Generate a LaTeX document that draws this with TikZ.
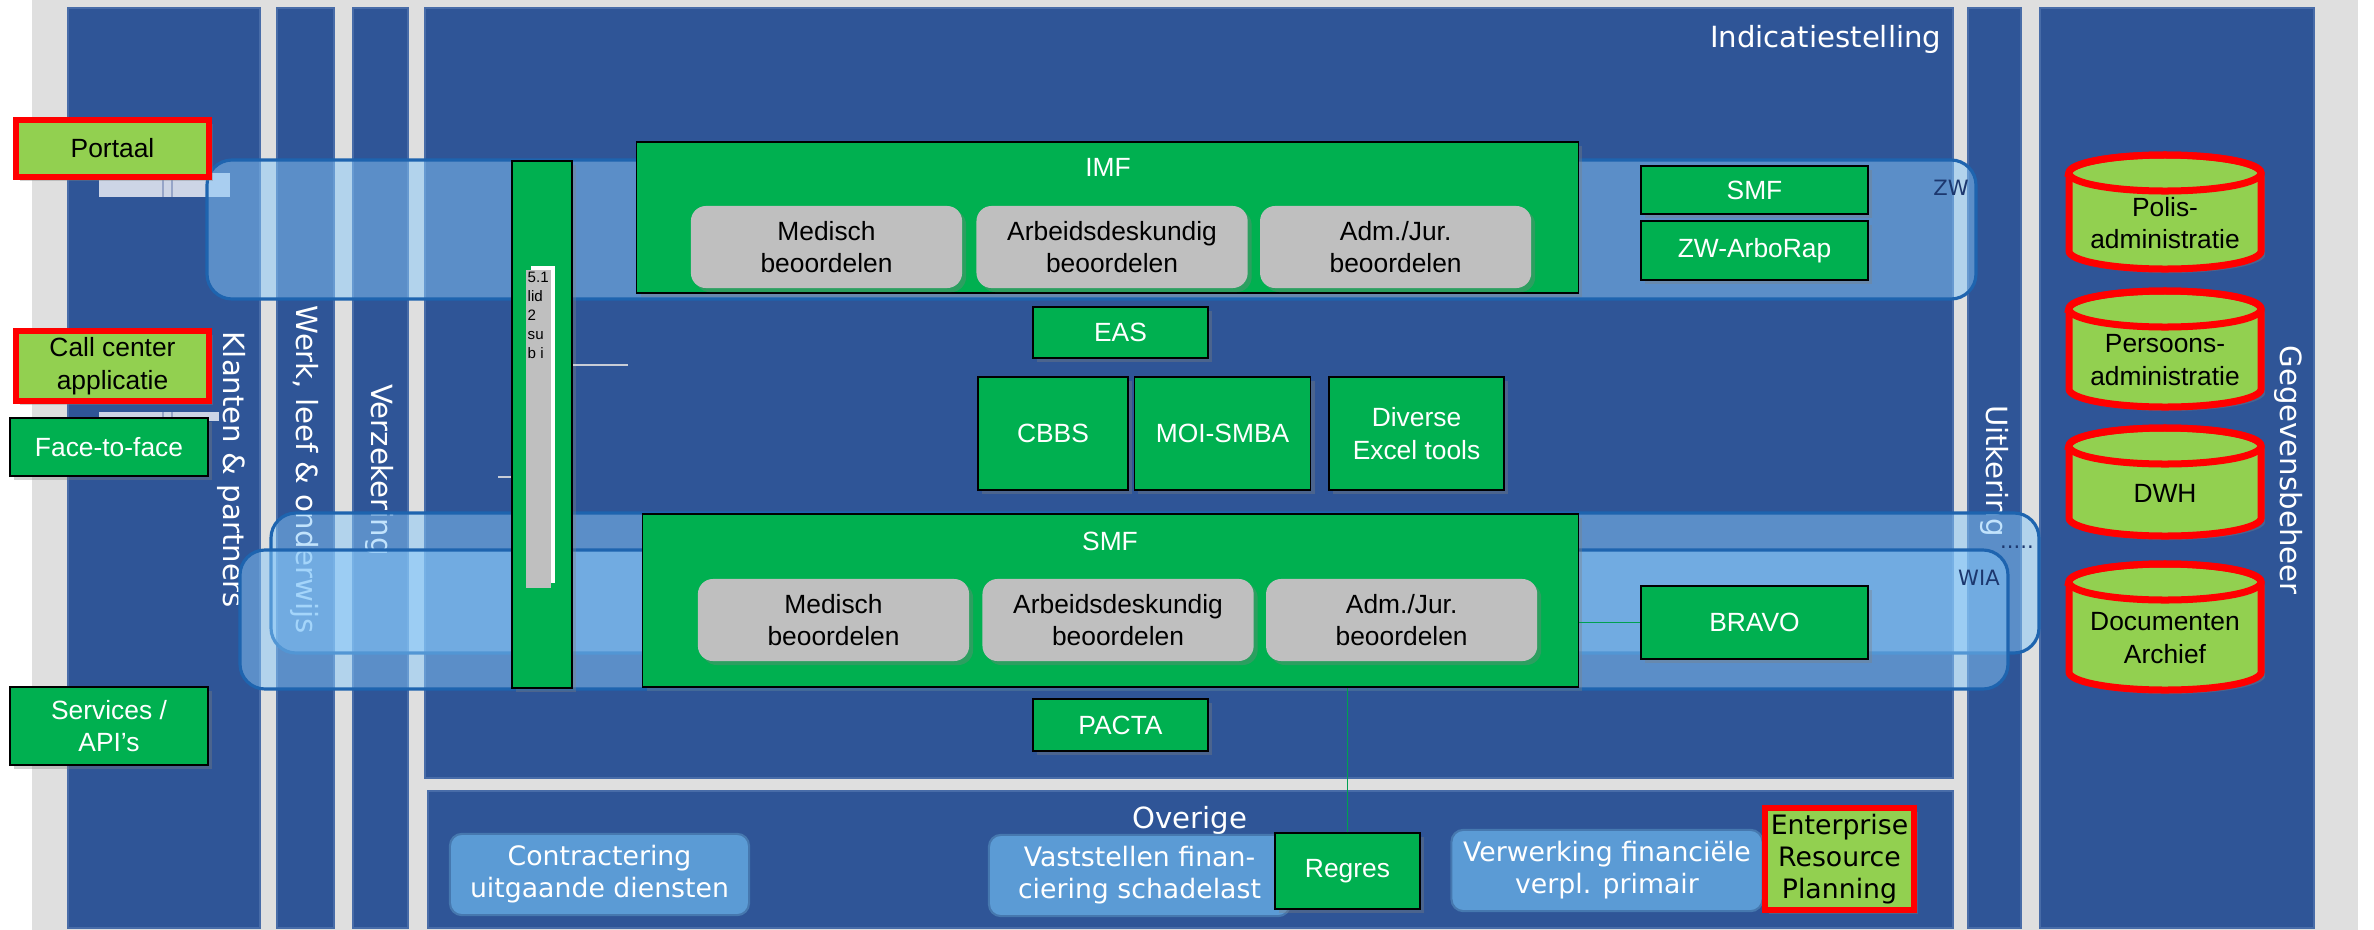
\documentclass[tikz,border=0pt]{standalone}
\usepackage{fontspec}
\setmainfont{Liberation Sans}
\newfontfamily\verdfont{DejaVu Sans}
\usepackage{tikz}
\usetikzlibrary{positioning, shadows}

\definecolor{bggray}{RGB}{223,223,223}
\definecolor{laneblue}{RGB}{47,85,151}
\definecolor{lanerim}{RGB}{72,108,168}
\definecolor{appgreen}{RGB}{0,176,80}
\definecolor{funcgray}{RGB}{191,191,191}
\definecolor{limegreen}{RGB}{146,208,80}
\definecolor{alertred}{RGB}{255,0,0}
\definecolor{procblue}{RGB}{91,155,213}
\definecolor{procrim}{RGB}{70,120,175}
\definecolor{bandfill}{RGB}{135,200,250}
\definecolor{bandrim}{RGB}{30,100,175}
\definecolor{tagblue}{RGB}{28,55,110}
\definecolor{linkgreen}{RGB}{0,160,80}
\definecolor{whiskergray}{RGB}{200,205,215}
\definecolor{stubfill}{RGB}{205,213,230}
\definecolor{stubline}{RGB}{150,165,200}

\newcommand{\appfont}{\fontsize{7.5}{9.3}\selectfont}
\newcommand{\lanefont}{\verdfont\fontsize{8.3}{10}\selectfont}
\newcommand{\procfont}{\verdfont\fontsize{7.6}{9.1}\selectfont}
\newcommand{\tagfont}{\verdfont\fontsize{6}{7}\selectfont}
\newcommand{\notefont}{\fontsize{4.3}{5.4}\selectfont}

% database drum: name, x, top y, bottom y, text
\newcommand{\datadrum}[5]{%
  \path[drum] (#2-96,#3) -- (#2-96,#4)
    arc[start angle=180, end angle=360, x radius=0.96cm, y radius=0.18cm]
    -- (#2+96,#3) arc[start angle=0, end angle=180, x radius=0.96cm, y radius=0.18cm] -- cycle;
  \draw[drumrim] (#2,#3) ellipse [x radius=0.96cm, y radius=0.18cm];
  \node[drumtext] (#1) at (#2,{(#3+#4)/2+11}) {#5};
}

\begin{document}
\begin{tikzpicture}[x=0.01cm, y=-0.01cm]
    % Define block styles
    \tikzstyle{lane} = [draw=lanerim, line width=0.6pt, fill=laneblue]
    \tikzstyle{lanelabel} = [text=white, font=\lanefont, rotate=-90, inner sep=0pt]
    \tikzstyle{band} = [draw=bandrim, line width=0.9pt, fill=bandfill, fill opacity=0.5, rounded corners=0.25cm]
    \tikzstyle{tag} = [text=tagblue, font=\tagfont, inner sep=0pt]
    \tikzstyle{castshadow} = [drop shadow={shadow xshift=0.04cm, shadow yshift=-0.04cm, opacity=0.35}]
    \tikzstyle{app} = [rectangle, draw=black, line width=0.4pt, fill=appgreen, text=white, font=\appfont, align=center, inner sep=1pt, castshadow]
    \tikzstyle{func} = [rectangle, rounded corners=0.15cm, fill=funcgray, text=black, font=\appfont, align=center, minimum width=2.71cm, minimum height=0.82cm, castshadow]
    \tikzstyle{legacy} = [rectangle, draw=alertred, line width=0.06cm, fill=limegreen, text=black, font=\appfont, align=center, inner sep=1pt, castshadow]
    \tikzstyle{process} = [rectangle, rounded corners=0.12cm, draw=procrim, line width=0.6pt, fill=procblue, text=white, font=\procfont, align=center, minimum height=0.75cm]
    \tikzstyle{note} = [anchor=north west, align=left, inner sep=0pt, font=\notefont, text=black]
    \tikzstyle{drum} = [draw=alertred, line width=0.07cm, fill=limegreen, castshadow]
    \tikzstyle{drumrim} = [draw=alertred, line width=0.07cm]
    \tikzstyle{drumtext} = [text=black, font=\appfont, align=center]
    \tikzstyle{link} = [draw=linkgreen, line width=0.4pt]
    \tikzstyle{whisker} = [draw=whiskergray, line width=0.5pt]

    % Canvas
    \useasboundingbox (0,0) rectangle (2374,930);
    \clip (0,0) rectangle (2374,930);
    \fill[white] (0,0) rectangle (2374,930);
    \fill[bggray] (32,0) rectangle (2358,930);

    % Lanes
    \draw[lane] (68,8) rectangle (260,928);
    \draw[lane] (277,8) rectangle (334,928);
    \draw[lane] (353,8) rectangle (408,928);
    \draw[lane] (425,8) rectangle (1953,778);
    \draw[lane] (428,791) rectangle (1953,928);
    \draw[lane] (1968,8) rectangle (2021,928);
    \draw[lane] (2040,8) rectangle (2314,928);

    % Lane titles
    \node[lanelabel] (klanten) at (232,470) {Klanten \& partners};
    \node[lanelabel] (werk) at (305,470) {Werk, leef \& onderwijs};
    \node[lanelabel] (verzekering) at (380,470) {Verzekering};
    \node[lanelabel] (uitkering) at (1995,471) {Uitkering};
    \node[lanelabel] (gegevens) at (2289,470) {Gegevensbeheer};
    \node[text=white, font=\lanefont, anchor=base east, inner sep=0pt] (indicatie) at (1942,47) {Indicatiestelling};
    \node[text=white, font=\lanefont, anchor=base, inner sep=0pt] (overige) at (1190,828) {Overige};

    % Stubs under the channels
    \fill[stubfill] (99,173) rectangle (230,197);
    \draw[stubline, line width=0.5pt] (163,173) -- (163,197) (172,173) -- (172,197);
    \fill[stubfill] (99,412) rectangle (219,421);
    \draw[stubline, line width=0.5pt] (163,412) -- (163,421) (172,412) -- (172,421);

    % Regelingen
    \draw[band] (207,160) rectangle (1976,299);
    \draw[band] (271,513) rectangle (2039,653);
    \draw[band] (240,550) rectangle (2008,689);
    \node[tag] (zwtag) at (1951,188) {ZW};
    \node[tag, anchor=base] (dotstag) at (2017,548) {.....};
    \node[tag] (wiatag) at (1979,578) {WIA};

    % Wet bar
    \node[app, minimum width=0.6cm, minimum height=5.27cm] (wetbar) at (542,424.5) {};
    \fill[white] (531,266) rectangle (555,583);
    \fill[funcgray] (526,270) rectangle (551,588);
    \node[note] (lidnote) at (527,271) {5.1\\lid\\2\\su\\b i};

    % IMF
    \node[app, minimum width=9.41cm, minimum height=1.51cm] (imf) at (1107.5,217.5) {};
    \node[text=white, font=\appfont] (imftitle) at (1108,167) {IMF};
    \node[func] (imfmed) at (826.5,247) {Medisch\\beoordelen};
    \node[func, right=0.13cm of imfmed] (imfad) {Arbeidsdeskundig\\beoordelen};
    \node[func, right=0.11cm of imfad] (imfjur) {Adm./Jur.\\beoordelen};

    % Shared applications
    \node[app, minimum width=1.75cm, minimum height=0.51cm] (eas) at (1120.5,332.5) {EAS};
    \node[app, minimum width=1.50cm, minimum height=1.13cm] (cbbs) at (1053,433.5) {CBBS};
    \node[app, minimum width=1.76cm, minimum height=1.13cm, right=0.05cm of cbbs] (moi) {MOI-SMBA};
    \node[app, minimum width=1.75cm, minimum height=1.13cm, right=0.17cm of moi] (excel) {Diverse\\Excel tools};

    % SMF
    \node[app, minimum width=9.35cm, minimum height=1.73cm] (smf) at (1110.5,600.5) {};
    \node[text=white, font=\appfont] (smftitle) at (1110,541) {SMF};
    \node[func] (smfmed) at (833.5,620) {Medisch\\beoordelen};
    \node[func, right=0.12cm of smfmed] (smfad) {Arbeidsdeskundig\\beoordelen};
    \node[func, right=0.11cm of smfad] (smfjur) {Adm./Jur.\\beoordelen};
    \node[app, minimum width=1.75cm, minimum height=0.52cm] (pacta) at (1120.5,725) {PACTA};

    % ZW / WIA applications
    \node[app, minimum width=2.27cm, minimum height=0.48cm] (zwsmf) at (1754.5,190) {SMF};
    \node[app, minimum width=2.27cm, minimum height=0.59cm] (arborap) at (1754.5,250.5) {ZW-ArboRap};
    \node[app, minimum width=2.27cm, minimum height=0.73cm] (bravo) at (1754.5,622.5) {BRAVO};

    % Channels
    \node[legacy, minimum width=1.93cm, minimum height=0.57cm] (portaal) at (112.5,148.5) {Portaal};
    \node[legacy, minimum width=1.93cm, minimum height=0.70cm] (callcenter) at (112.5,366) {Call center\\applicatie};
    \node[app, minimum width=1.98cm, minimum height=0.58cm] (facetoface) at (109,447) {Face-to-face};
    \node[app, minimum width=1.98cm, minimum height=0.78cm] (services) at (109,726) {Services /\\API’s};

    % Overige
    \node[process, minimum width=2.99cm] (contract) at (599.5,874.5) {Contractering\\uitgaande diensten};
    \node[process, minimum width=3.01cm] (schadelast) at (1139.5,875.5) {Vaststellen finan-\\ciering schadelast};
    \node[process, minimum width=3.10cm] (verwerking) at (1607,870.5) {Verwerking financiële\\verpl. primair};
    \node[app, minimum width=1.45cm, minimum height=0.76cm] (regres) at (1347.5,871) {Regres};
    \node[legacy, font=\procfont, minimum width=1.49cm, minimum height=1.02cm] (erp) at (1839.5,859) {Enterprise\\Resource\\Planning};

    % Data stores
    \datadrum{polis}{2165}{173}{251}{Polis-\\administratie}
    \datadrum{persoons}{2165}{309}{389}{Persoons-\\administratie}
    \datadrum{dwh}{2165}{446}{518}{DWH}
    \datadrum{archief}{2165}{582}{672}{Documenten\\Archief}

    % Connections
    \draw[link] (regres.north) -- (regres.north |- smf.south);
    \draw[link] (bravo.west) -- (smf.east |- bravo.west);
    \coordinate (whiskerA) at (628,365);
    \coordinate (whiskerB) at (498,477);
    \draw[whisker] (whiskerA) -- (whiskerA -| wetbar.east);
    \draw[whisker] (whiskerB) -- (whiskerB -| wetbar.west);
\end{tikzpicture}
\end{document}
